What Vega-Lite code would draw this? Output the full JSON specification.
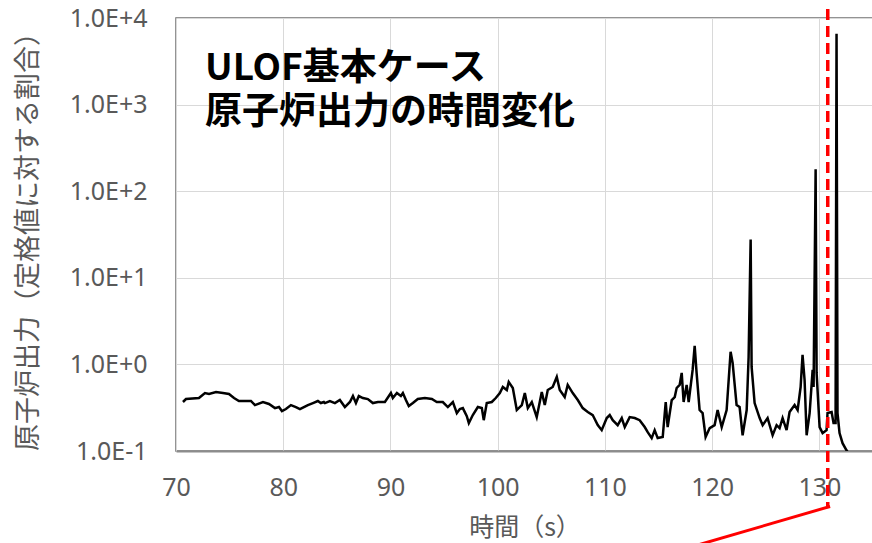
{
  "$schema": "https://vega.github.io/schema/vega-lite/v6.json",
  "width": 697,
  "height": 433,
  "autosize": {"type": "none"},
  "padding": {"left": 176, "top": 18, "right": 0, "bottom": 92},
  "background": "white",
  "config": {"view": {"stroke": "#707070", "strokeWidth": 1.5}, "font": "Noto Sans"},
  "layer": [
    {
      "data": {"values": [
        {"t":70.65,"p":0.368},{"t":70.93,"p":0.398},{"t":72.14,"p":0.409},{"t":72.70,"p":0.467},{"t":73.08,"p":0.455},
        {"t":73.73,"p":0.480},{"t":74.38,"p":0.467},{"t":74.94,"p":0.455},{"t":75.41,"p":0.409},{"t":75.87,"p":0.378},
        {"t":76.52,"p":0.378},{"t":76.99,"p":0.378},{"t":77.36,"p":0.339},{"t":78.11,"p":0.368},{"t":78.67,"p":0.349},
        {"t":79.23,"p":0.313},{"t":79.60,"p":0.322},{"t":79.88,"p":0.289},{"t":80.25,"p":0.305},{"t":80.72,"p":0.339},
        {"t":81.18,"p":0.322},{"t":81.56,"p":0.305},{"t":81.93,"p":0.322},{"t":82.30,"p":0.339},{"t":82.77,"p":0.358},
        {"t":83.23,"p":0.378},{"t":83.51,"p":0.358},{"t":83.79,"p":0.368},{"t":83.89,"p":0.358},{"t":84.35,"p":0.378},
        {"t":84.82,"p":0.358},{"t":85.28,"p":0.388},{"t":85.75,"p":0.322},{"t":86.22,"p":0.368},{"t":86.50,"p":0.431},
        {"t":86.78,"p":0.358},{"t":87.05,"p":0.431},{"t":87.43,"p":0.409},{"t":87.89,"p":0.398},{"t":88.36,"p":0.358},
        {"t":88.83,"p":0.368},{"t":89.48,"p":0.368},{"t":90.04,"p":0.467},{"t":90.22,"p":0.409},{"t":90.60,"p":0.467},
        {"t":90.97,"p":0.431},{"t":91.16,"p":0.467},{"t":91.44,"p":0.388},{"t":91.71,"p":0.330},{"t":92.09,"p":0.358},
        {"t":92.55,"p":0.398},{"t":93.21,"p":0.409},{"t":93.86,"p":0.398},{"t":94.32,"p":0.368},{"t":94.88,"p":0.368},
        {"t":95.35,"p":0.322},{"t":95.82,"p":0.368},{"t":96.19,"p":0.274},{"t":96.47,"p":0.305},{"t":96.75,"p":0.313},
        {"t":97.12,"p":0.253},{"t":97.31,"p":0.210},{"t":97.68,"p":0.260},{"t":98.15,"p":0.322},{"t":98.52,"p":0.313},
        {"t":98.70,"p":0.227},{"t":98.98,"p":0.358},{"t":99.45,"p":0.368},{"t":99.82,"p":0.409},{"t":100.20,"p":0.467},
        {"t":100.48,"p":0.548},{"t":100.85,"p":0.506},{"t":101.03,"p":0.627},{"t":101.41,"p":0.534},{"t":101.78,"p":0.297},
        {"t":102.25,"p":0.339},{"t":102.53,"p":0.467},{"t":102.81,"p":0.313},{"t":103.18,"p":0.368},{"t":103.64,"p":0.246},
        {"t":104.11,"p":0.480},{"t":104.39,"p":0.339},{"t":104.67,"p":0.506},{"t":105.13,"p":0.548},{"t":105.51,"p":0.717},
        {"t":105.79,"p":0.506},{"t":106.25,"p":0.420},{"t":106.53,"p":0.579},{"t":107.00,"p":0.467},{"t":107.47,"p":0.388},
        {"t":107.93,"p":0.313},{"t":108.40,"p":0.282},{"t":108.86,"p":0.260},{"t":109.33,"p":0.199},{"t":109.70,"p":0.174},
        {"t":110.17,"p":0.240},{"t":110.45,"p":0.260},{"t":110.73,"p":0.227},{"t":111.19,"p":0.199},{"t":111.57,"p":0.240},
        {"t":111.85,"p":0.189},{"t":112.31,"p":0.246},{"t":112.78,"p":0.240},{"t":113.24,"p":0.227},{"t":113.71,"p":0.189},
        {"t":113.99,"p":0.165},{"t":114.36,"p":0.141},{"t":114.64,"p":0.174},{"t":114.92,"p":0.141},{"t":115.39,"p":0.145},
        {"t":115.67,"p":0.368},{"t":115.85,"p":0.189},{"t":116.23,"p":0.388},{"t":116.51,"p":0.420},{"t":116.69,"p":0.534},
        {"t":116.97,"p":0.579},{"t":117.16,"p":0.797},{"t":117.34,"p":0.368},{"t":117.62,"p":0.579},{"t":117.81,"p":0.368},
        {"t":118.18,"p":0.864},{"t":118.37,"p":1.64},{"t":118.55,"p":0.797},{"t":118.83,"p":0.297},{"t":119.11,"p":0.274},
        {"t":119.39,"p":0.145},{"t":119.77,"p":0.184},{"t":120.23,"p":0.199},{"t":120.51,"p":0.297},{"t":120.89,"p":0.189},
        {"t":121.35,"p":0.297},{"t":121.72,"p":1.40},{"t":121.91,"p":1.04},{"t":122.28,"p":0.339},{"t":122.56,"p":0.322},
        {"t":122.84,"p":0.152},{"t":123.22,"p":0.297},{"t":123.40,"p":1.22},{"t":123.59,"p":27.7},{"t":123.68,"p":0.935},
        {"t":123.96,"p":0.358},{"t":124.43,"p":0.240},{"t":124.71,"p":0.199},{"t":125.17,"p":0.240},{"t":125.64,"p":0.152},
        {"t":126.01,"p":0.199},{"t":126.29,"p":0.184},{"t":126.57,"p":0.240},{"t":126.94,"p":0.174},{"t":127.22,"p":0.282},
        {"t":127.69,"p":0.339},{"t":127.97,"p":0.297},{"t":128.25,"p":0.548},{"t":128.43,"p":1.29},{"t":128.62,"p":0.661},
        {"t":128.81,"p":0.152},{"t":129.09,"p":0.274},{"t":129.37,"p":0.864},{"t":129.46,"p":0.548},{"t":129.65,"p":179},
        {"t":129.74,"p":0.797},{"t":130.02,"p":0.189},{"t":130.30,"p":0.161},{"t":130.67,"p":0.174},{"t":130.76,"p":0.274},
        {"t":131.14,"p":0.282},{"t":131.32,"p":0.210},{"t":131.51,"p":0.210},{"t":131.60,"p":6580},{"t":131.69,"p":0.274},
        {"t":131.88,"p":0.161},{"t":132.16,"p":0.123},{"t":132.53,"p":0.102},{"t":132.81,"p":0.09}
      ]},
      "mark": {"type": "line", "color": "black", "strokeWidth": 2.5, "clip": true},
      "encoding": {
        "x": {
          "field": "t", "type": "quantitative",
          "scale": {"domain": [70, 135], "nice": false},
          "axis": {
            "title": "時間（s）", "values": [70, 80, 90, 100, 110, 120, 130],
            "grid": true, "gridColor": "#d9d9d9", "ticks": false, "labelFlush": false,
            "labelFontSize": 25, "labelColor": "#595959", "labelPadding": 24, "labelFont": "Noto Sans",
            "titleFont": "Noto Sans CJK JP", "titleFontSize": 25, "titleFontWeight": "normal", "titleColor": "#595959",
            "titlePadding": 15, "domainColor": "#8c8c8c", "domainWidth": 2
          }
        },
        "y": {
          "field": "p", "type": "quantitative",
          "scale": {"type": "log", "domain": [0.1, 10000], "nice": false},
          "axis": {
            "title": "原子炉出力（定格値に対する割合）", "values": [0.1, 1, 10, 100, 1000, 10000],
            "labelExpr": "'1.0E' + (datum.value >= 1 ? '+' : '-') + format(abs(round(log(datum.value) / LN10)), 'd')",
            "grid": true, "gridColor": "#d9d9d9", "ticks": false, "domain": false,
            "labelFontSize": 25, "labelColor": "#595959", "labelPadding": 29, "labelFont": "Noto Sans",
            "titleFont": "Noto Sans CJK JP", "titleFontSize": 27, "titleFontWeight": "normal", "titleColor": "#595959",
            "titlePadding": 27
          }
        }
      }
    },
    {
      "data": {"values": [{"label": "title"}]},
      "mark": {"type": "text", "text": ["ULOF基本ケース", "原子炉出力の時間変化"], "font": "Noto Sans CJK JP", "fontWeight": "bold", "fontSize": 37, "align": "left", "baseline": "middle", "lineHeight": 44, "color": "black"},
      "encoding": {"x": {"datum": 72.7}, "y": {"datum": 2600}}
    },
    {
      "data": {"values": [{"label": "marker"}]},
      "mark": {"type": "rule", "color": "#ff0000", "strokeWidth": 3.5, "strokeDash": [11, 6], "clip": false},
      "encoding": {"x": {"datum": 130.78}, "y": {"datum": 12700}, "y2": {"datum": 0.0229}}
    },
    {
      "data": {"values": [{"t": 131.0, "p": 0.0229}, {"t": 109.5, "p": 0.00384}]},
      "mark": {"type": "line", "color": "#ff0000", "strokeWidth": 3, "clip": false},
      "encoding": {
        "x": {"field": "t", "type": "quantitative"},
        "y": {"field": "p", "type": "quantitative"}
      }
    }
  ]
}
